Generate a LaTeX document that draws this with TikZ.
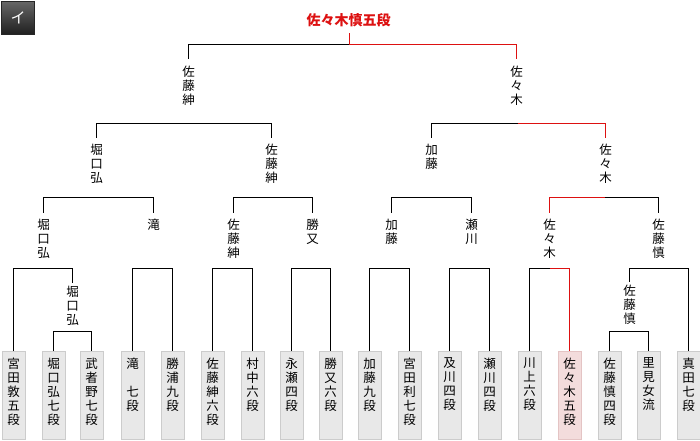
\documentclass[tikz,border=0pt]{standalone}
\usepackage{fontspec}
\newfontfamily\jp{Noto Sans CJK JP}
\definecolor{win}{RGB}{221,17,17}
\definecolor{boxfill}{RGB}{232,232,232}
\definecolor{boxline}{RGB}{204,204,204}
\definecolor{winfill}{RGB}{243,220,220}
\definecolor{winline}{RGB}{228,196,196}
\begin{document}
\begin{tikzpicture}[x=1pt,y=-1pt,
 ln/.style={line width=1pt, draw=black},
 rln/.style={line width=1pt, draw=win},
 lab/.style={anchor=north, inner sep=0pt, align=center, font=\jp\fontsize{12.5}{14}\selectfont},
 leafbox/.style={draw=boxline, fill=boxfill, line width=1pt, minimum width=23pt, minimum height=88pt, anchor=north, inner sep=0pt},
 winbox/.style={leafbox, draw=winline, fill=winfill},
 badge/.style={draw=black!85, line width=1pt, top color=black!60, bottom color=black!88, minimum size=33pt, inner sep=0pt, text=white, font=\jp\fontsize{15}{16}\selectfont}
]
\useasboundingbox (0,0) rectangle (700,440);
\fill[white] (0,0) rectangle (700,440);
\begin{scope}[xshift=0.5pt, yshift=-0.5pt]

\node[badge] (badge) at (17.5,17.5) {イ};

% champion
\node[inner sep=0pt, text=win, font=\jp\bfseries\fontsize{14}{16}\selectfont] (champ) at (348,20) {佐々木慎五段};

% leaf boxes
\node[leafbox] (l1) at (13,350.5) {};
\node[leafbox] (l2) at (53,350.5) {};
\node[leafbox] (l3) at (91,350.5) {};
\node[leafbox] (l4) at (132,350.5) {};
\node[leafbox] (l5) at (172,350.5) {};
\node[leafbox] (l6) at (212,350.5) {};
\node[leafbox] (l7) at (252,350.5) {};
\node[leafbox] (l8) at (291,350.5) {};
\node[leafbox] (l9) at (330,350.5) {};
\node[leafbox] (l10) at (369,350.5) {};
\node[leafbox] (l11) at (409,350.5) {};
\node[leafbox] (l12) at (449,350.5) {};
\node[leafbox] (l13) at (489,350.5) {};
\node[leafbox] (l14) at (529,350.5) {};
\node[winbox] (l15) at (569,350.5) {};
\node[leafbox] (l16) at (609,350.5) {};
\node[leafbox] (l17) at (648,350.5) {};
\node[leafbox] (l18) at (688,350.5) {};

% leaf texts
\node[lab] (t1) at (13,357) {宮\\田\\敦\\五\\段};
\node[lab] (t2) at (53,357) {堀\\口\\弘\\七\\段};
\node[lab] (t3) at (91,357) {武\\者\\野\\七\\段};
\node[lab] (t4) at (132,357) {滝\\　\\七\\段};
\node[lab] (t5) at (172,357) {勝\\浦\\九\\段};
\node[lab] (t6) at (212,357) {佐\\藤\\紳\\六\\段};
\node[lab] (t7) at (252,357) {村\\中\\六\\段};
\node[lab] (t8) at (291,357) {永\\瀬\\四\\段};
\node[lab] (t9) at (330,357) {勝\\又\\六\\段};
\node[lab] (t10) at (369,357) {加\\藤\\九\\段};
\node[lab] (t11) at (409,357) {宮\\田\\利\\七\\段};
\node[lab] (t12) at (449,357) {及\\川\\四\\段};
\node[lab] (t13) at (489,357) {瀬\\川\\四\\段};
\node[lab] (t14) at (529,357) {川\\上\\六\\段};
\node[lab] (t15) at (569,357) {佐\\々\\木\\五\\段};
\node[lab] (t16) at (609,357) {佐\\藤\\慎\\四\\段};
\node[lab] (t17) at (648,357) {里\\見\\女\\流};
\node[lab] (t18) at (688,357) {真\\田\\七\\段};

% winner labels
\node[lab] (s1) at (72,285) {堀\\口\\弘};
\node[lab] (s2) at (629,284) {佐\\藤\\慎};

\node[lab] (p2a) at (43,218) {堀\\口\\弘};
\node[lab] (p2b) at (153,218) {滝};
\node[lab] (p2c) at (233,218) {佐\\藤\\紳};
\node[lab] (p2d) at (312,218) {勝\\又};
\node[lab] (p2e) at (391,218) {加\\藤};
\node[lab] (p2f) at (471,218) {瀬\\川};
\node[lab] (p2g) at (549,218) {佐\\々\\木};
\node[lab] (p2h) at (658,218) {佐\\藤\\慎};

\node[lab] (p3a) at (96,143) {堀\\口\\弘};
\node[lab] (p3b) at (271,143) {佐\\藤\\紳};
\node[lab] (p3c) at (431,143) {加\\藤};
\node[lab] (p3d) at (605,143) {佐\\々\\木};

\node[lab] (p4a) at (188,65) {佐\\藤\\紳};
\node[lab] (p4b) at (516,65) {佐\\々\\木};

% bracket midpoints
\coordinate (mS1) at (72,331);
\coordinate (mS2) at (628,331);
\coordinate (mA) at (42.5,268);
\coordinate (mB) at (152,268);
\coordinate (mC) at (232,268);
\coordinate (mD) at (311,268);
\coordinate (mE) at (389,268);
\coordinate (mF) at (469,268);
\coordinate (mG) at (549,268);
\coordinate (mH) at (658.5,268);
\coordinate (m3a) at (98,197);
\coordinate (m3b) at (272,197);
\coordinate (m3c) at (431,197);
\coordinate (m3d) at (604,197);
\coordinate (m4a) at (183,123);
\coordinate (m4b) at (517,123);
\coordinate (m5) at (349,44);
\coordinate (m5top) at (349,32);

% sub brackets
\draw[ln] (l2.north) |- (mS1) -| (l3.north);
\draw[ln] (l16.north) |- (mS2) -| (l17.north);

% first round
\draw[ln] (l1.north) |- (mA) -| ([yshift=3pt]s1.north);
\draw[ln] (l4.north) |- (mB) -| (l5.north);
\draw[ln] (l6.north) |- (mC) -| (l7.north);
\draw[ln] (l8.north) |- (mD) -| (l9.north);
\draw[ln] (l10.north) |- (mE) -| (l11.north);
\draw[ln] (l12.north) |- (mF) -| (l13.north);
\draw[ln] (l14.north) |- (mG);
\draw[rln] (mG) -| (l15.north);
\draw[ln] ([yshift=3pt]s2.north) |- (mH) -| (l18.north);

% second round
\draw[ln] ([yshift=6pt]p2a.north) |- (m3a) -| ([yshift=6pt]p2b.north);
\draw[ln] ([yshift=6pt]p2c.north) |- (m3b) -| ([yshift=6pt]p2d.north);
\draw[ln] ([yshift=6pt]p2e.north) |- (m3c) -| ([yshift=6pt]p2f.north);
\draw[rln] ([yshift=6pt]p2g.north) |- (m3d);
\draw[ln] (m3d) -| ([yshift=6pt]p2h.north);

% semi final
\draw[ln] ([yshift=6pt]p3a.north) |- (m4a) -| ([yshift=6pt]p3b.north);
\draw[ln] ([yshift=6pt]p3c.north) |- (m4b);
\draw[rln] (m4b) -| ([yshift=6pt]p3d.north);

% final
\draw[ln] ([yshift=7pt]p4a.north) |- (m5);
\draw[rln] (m5) -| ([yshift=7pt]p4b.north);
\draw[rln] (m5) -- (m5top);
\end{scope}
\end{tikzpicture}
\end{document}
